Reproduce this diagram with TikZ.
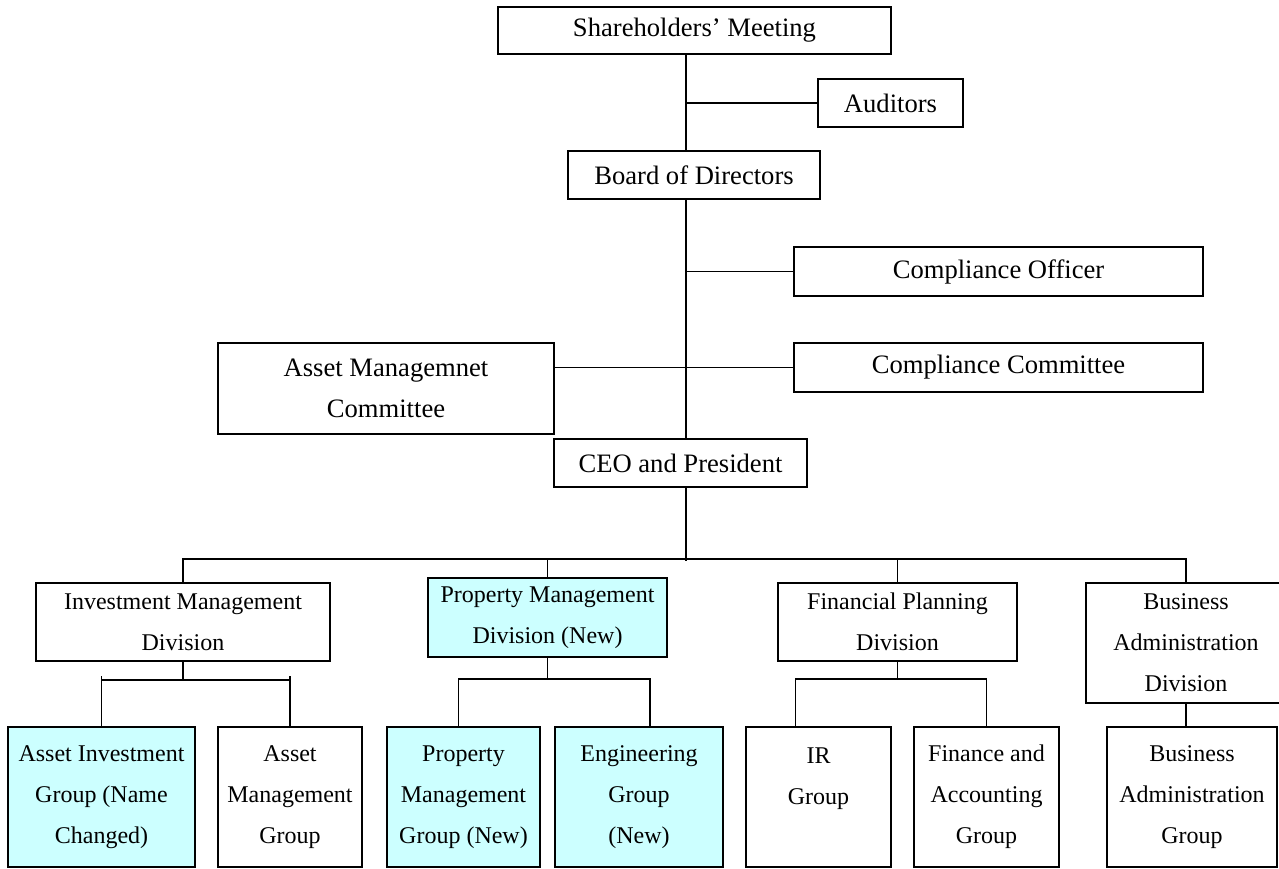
\documentclass[tikz,border=0pt]{standalone}
\usepackage{fontspec}
\setmainfont{Liberation Serif}
\usepackage{tikz}
\definecolor{newcyan}{RGB}{204,255,255}
\tikzset{
  unit/.style={draw, line width=0.8pt, inner sep=0pt, align=center, font=\fontsize{12}{20.5}\selectfont},
  topunit/.style={unit, font=\fontsize{13.3}{20.5}\selectfont},
  newunit/.style={unit, fill=newcyan},
  link/.style={line width=0.8pt}
}

\begin{document}
\begin{tikzpicture}[x=0.5pt,y=-0.5pt]
  \useasboundingbox (0,0) rectangle (1279,868);
  \coordinate (spine) at (686,0);
  \coordinate (bus) at (0,559);
  \coordinate (sub) at (0,680);

  % Top of the organisation
  \node[topunit,minimum width=196.5pt,minimum height=23.5pt] (share) at (694.5,30.5) {Shareholders' Meeting};
  \node[topunit,minimum width=72.5pt,minimum height=24pt] (audit) at (890.5,103) {Auditors};
  \node[topunit,minimum width=126pt,minimum height=24pt] (board) at (694,175) {Board of Directors};
  \node[topunit,minimum width=204.5pt,minimum height=24.5pt] (cofficer) at (998.5,271.5) {Compliance Officer};
  \node[topunit,minimum width=204.5pt,minimum height=24.5pt] (ccommittee) at (998.5,367.5) {Compliance Committee};
  \node[topunit,minimum width=168pt,minimum height=45.5pt] (amcommittee) at (386,388.5) {Asset Managemnet\\Committee};
  \node[topunit,minimum width=126.5pt,minimum height=24pt] (ceo) at (680.5,463) {CEO and President};

  % Divisions
  \node[unit,minimum width=147pt,minimum height=39pt] (invdiv) at (183,622) {Investment Management\\Division};
  \node[newunit,minimum width=119.5pt,minimum height=39.5pt] (propdiv) at (547.5,617.5) {Property Management\\Division (New)};
  \node[unit,minimum width=119.5pt,minimum height=39pt] (findiv) at (897.5,622) {Financial Planning\\Division};
  \node[unit,minimum width=100pt,minimum height=60pt] (busdiv) at (1186,643) {Business\\Administration\\Division};

  % Groups
  \node[newunit,minimum width=93.5pt,minimum height=70pt] (aigroup) at (101.5,797) {Asset Investment\\Group (Name\\Changed)};
  \node[unit,minimum width=72pt,minimum height=70pt] (amgroup) at (290,797) {Asset\\Management\\Group};
  \node[newunit,minimum width=76.5pt,minimum height=70pt] (pmgroup) at (463.5,797) {Property\\Management\\Group (New)};
  \node[newunit,minimum width=84pt,minimum height=70pt] (enggroup) at (639,797) {Engineering\\Group\\(New)};
  \node[unit,minimum width=72.5pt,minimum height=70pt] (irgroup) at (818.5,797) {IR\\Group\\~};
  \node[unit,minimum width=72.5pt,minimum height=70pt] (fagroup) at (986.5,797) {Finance and\\Accounting\\Group};
  \node[unit,minimum width=85pt,minimum height=70pt] (bagroup) at (1192,797) {Business\\Administration\\Group};

  % Main line
  \draw[link] (share.south -| spine) -- (board.north -| spine);
  \draw[link] (audit.west -| spine) -- (audit.west);
  \draw[link] (board.south -| spine) -- (ceo.north -| spine);
  \draw[link] (cofficer.west -| spine) -- (cofficer.west);
  \draw[link] (amcommittee.east |- ccommittee.west) -- (ccommittee.west);
  \draw[link] (ceo.south -| spine) -- ([yshift=-1pt]bus -| spine);
  \draw[link] (invdiv.north) -- (invdiv.north |- bus) -- (busdiv.north |- bus) -- (busdiv.north);
  \draw[link] (propdiv.north) -- (propdiv.north |- bus);
  \draw[link] (findiv.north) -- (findiv.north |- bus);

  % Division to groups
  \draw[link] (invdiv.south) -- (invdiv.south |- sub);
  \draw[link] (aigroup.north) -- ++(0,-50);
  \draw[link] (amgroup.north) -- ++(0,-50);
  \draw[link] (aigroup.north |- sub) -- (amgroup.north |- sub);
  \draw[link] (propdiv.south) -- (propdiv.south |- sub);
  \draw[link] ([xshift=-2.5pt]pmgroup.north) -- ++(0,-47) -| ([xshift=5.5pt]enggroup.north);
  \draw[link] (findiv.south) -- (findiv.south |- sub);
  \draw[link] ([xshift=-11.5pt]irgroup.north) -- ++(0,-47) -| (fagroup.north);
  \draw[link] (busdiv.south) -- (busdiv.south |- bagroup.north);
\end{tikzpicture}
\end{document}
